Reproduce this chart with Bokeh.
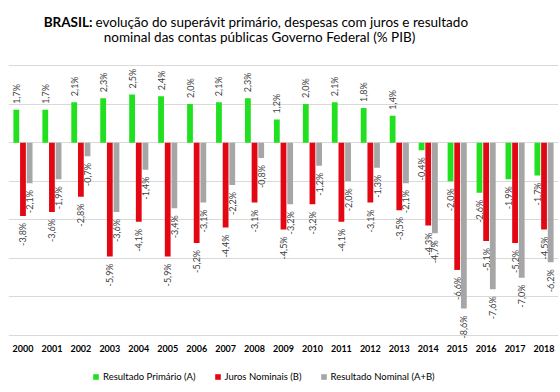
from math import pi
from bokeh.plotting import figure
from bokeh.models import (FactorRange, Range1d, ColumnDataSource, Legend, LegendItem,
                          FixedTicker, Label, CDSView, BooleanFilter)
from bokeh.transform import dodge
from bokeh.core.properties import value
from bokeh.embed import file_html
from bokeh.resources import INLINE

years = [str(y) for y in range(2000, 2019)]
primario = [1.7, 1.7, 2.1, 2.3, 2.5, 2.4, 2.0, 2.1, 2.3, 1.2, 2.0, 2.1, 1.8, 1.4, -0.4, -2.0, -2.6, -1.9, -1.7]
juros = [-3.8, -3.6, -2.8, -5.9, -4.1, -5.9, -5.2, -4.4, -3.1, -4.5, -3.2, -4.1, -3.1, -3.5, -4.3, -6.6, -5.1, -5.2, -4.5]
nominal = [-2.1, -1.9, -0.7, -3.6, -1.4, -3.4, -3.1, -2.2, -0.8, -3.2, -1.2, -2.0, -1.3, -2.1, -4.7, -8.6, -7.6, -7.0, -6.2]
series_names = ["Resultado Primário (A)", "Juros Nominais (B)", "Resultado Nominal (A+B)"]
grid_ticks = [-10, -8, -6, -4, -2, 0, 2, 4]
axis_min = -10

GREEN = "#20E020"
RED = "#E30613"
GRAY = "#A6A6A6"
FONT = "Lato"


def fmt(v):
    return ("%.1f" % v).replace(".", ",") + "%"


data = dict(year=years, base=[axis_min] * len(years))
for key, vals in (("prim", primario), ("jur", juros), ("nom", nominal)):
    data[key] = vals
    data[key + "_lbl"] = [fmt(v) for v in vals]
src = ColumnDataSource(data)

p = figure(x_range=FactorRange(*years), y_range=Range1d(-12.956, 7.37),
           width=560, height=392, output_backend="svg", toolbar_location=None,
           min_border=0, min_border_left=8, min_border_right=2, outline_line_color=None,
           x_axis_location=None, y_axis_location=None)
p.title.visible = False

p.xgrid.visible = False
p.ygrid.ticker = FixedTicker(ticks=grid_ticks)
p.ygrid.grid_line_color = "#D9D9D9"
p.ygrid.grid_line_width = 1

# category (year) labels under the axis minimum line
p.text(x="year", y="base", text="year", text_align="center", text_baseline="middle",
       y_offset=13, text_font=value(FONT), text_font_style="bold", text_font_size="9px",
       text_color="#000000", source=src)

offs = [-0.23, 0.0, 0.23]
keys = ["prim", "jur", "nom"]
series_vals = [primario, juros, nominal]
colors = [GREEN, RED, GRAY]
renderers = []
for k, vals, off, c in zip(keys, series_vals, offs, colors):
    xd = dodge("year", off, range=p.x_range)
    r = p.vbar(x=xd, top=k, bottom=0, width=0.2, fill_color=c, line_color=None, source=src)
    renderers.append(r)
    pos_view = CDSView(filter=BooleanFilter([v >= 0 for v in vals]))
    neg_view = CDSView(filter=BooleanFilter([v < 0 for v in vals]))
    p.text(x=xd, y=k, text=k + "_lbl", angle=pi / 2, text_align="left", text_baseline="middle",
           y_offset=-6, text_font=value(FONT), text_font_size="9px", text_color="#404040",
           source=src, view=pos_view)
    p.text(x=xd, y=k, text=k + "_lbl", angle=pi / 2, text_align="right", text_baseline="middle",
           y_offset=7, text_font=value(FONT), text_font_size="9px", text_color="#404040",
           source=src, view=neg_view)

legend = Legend(items=[LegendItem(label=n, renderers=[r]) for n, r in zip(series_names, renderers)],
                orientation="horizontal", location=(84, 10),
                glyph_width=7, glyph_height=7, label_standoff=4, spacing=18,
                label_text_font=FONT, label_text_font_size="9.5px", label_text_color="#000000",
                border_line_color=None, background_fill_alpha=0, padding=3, margin=0,
                label_height=12)
p.add_layout(legend, "center")

t1 = Label(x=84, y=371, x_units="screen", y_units="screen", text="BRASIL:",
           text_font=FONT, text_font_style="bold", text_font_size="13.5px",
           text_align="right", text_baseline="middle", text_color="#000000")
t2 = Label(x=87, y=371, x_units="screen", y_units="screen",
           text="evolução do superávit primário, despesas com juros e resultado",
           text_font=FONT, text_font_size="13.5px",
           text_align="left", text_baseline="middle", text_color="#000000")
t3 = Label(x=251, y=356, x_units="screen", y_units="screen",
           text="nominal das contas públicas Governo Federal (% PIB)",
           text_font=FONT, text_font_size="13.5px",
           text_align="center", text_baseline="middle", text_color="#000000")
for t in (t1, t2, t3):
    p.add_layout(t)

open("out.html", "w").write(file_html(p, INLINE))
